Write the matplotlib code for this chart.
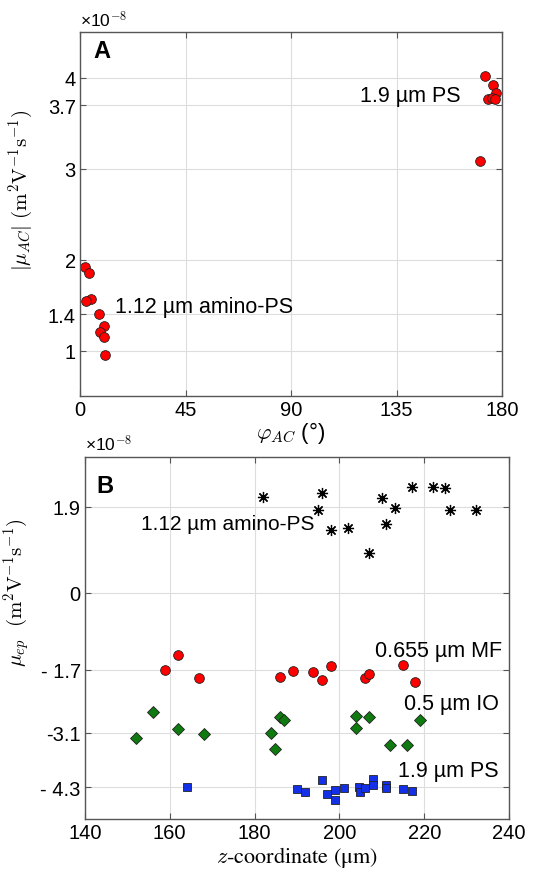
import matplotlib
matplotlib.use('Agg')
import matplotlib.pyplot as plt

plt.rcParams['font.family'] = ['Liberation Sans', 'DejaVu Sans']
plt.rcParams['mathtext.fontset'] = 'cm'

# panel A data (x 1e-8)
phi_ps = [172.8, 176.3, 177.3, 174.0, 175.5, 177.0, 170.4]
mu_ps = [4.02, 3.92, 3.83, 3.77, 3.78, 3.77, 3.08]
phi_amino = [2.0, 4.0, 4.5, 2.7, 8.0, 10.4, 8.7, 10.2, 10.8]
mu_amino = [1.92, 1.85, 1.57, 1.55, 1.40, 1.27, 1.20, 1.15, 0.95]

# panel B data (x 1e-8)
z_amino = [182.1, 195.0, 196.0, 198.0, 202.0, 207.0, 210.0, 211.0, 213.0, 217.1, 222.1, 224.9, 226.1, 232.1]
ep_amino = [2.10, 1.82, 2.19, 1.38, 1.43, 0.87, 2.08, 1.51, 1.86, 2.34, 2.34, 2.31, 1.82, 1.82]
z_mf = [158.9, 162.0, 167.0, 186.1, 189.1, 193.8, 196.0, 198.0, 206.0, 207.0, 215.1, 217.9]
ep_mf = [-1.70, -1.37, -1.88, -1.86, -1.74, -1.75, -1.93, -1.62, -1.89, -1.79, -1.59, -1.98]
z_io = [152.0, 156.0, 162.0, 168.1, 183.9, 184.9, 186.0, 187.0, 203.9, 203.9, 206.9, 212.0, 215.9, 219.0]
ep_io = [-3.21, -2.64, -3.01, -3.13, -3.11, -3.45, -2.74, -2.81, -2.73, -2.99, -2.75, -3.37, -3.37, -2.82]
z_ps = [164.1, 189.9, 191.8, 195.9, 197.0, 199.0, 199.0, 201.0, 204.7, 204.9, 206.0, 208.0, 208.0, 210.9, 210.9, 215.0, 217.0]
ep_ps = [-4.29, -4.34, -4.40, -4.15, -4.45, -4.37, -4.57, -4.32, -4.29, -4.41, -4.32, -4.12, -4.25, -4.25, -4.32, -4.34, -4.38]

a_yticks = [1, 1.4, 2, 3, 3.7, 4]
a_yticklabels = ['1', '1.4', '2', '3', '3.7', '4']
a_xticks = [0, 45, 90, 135, 180]
b_yticks = [-4.3, -3.1, -1.7, 0, 1.9]
b_yticklabels = ['- 4.3', '-3.1', '- 1.7', '0', '1.9']
b_xticks = [140, 160, 180, 200, 220, 240]

fig = plt.figure(figsize=(5.37, 8.70), dpi=100)
axA = fig.add_axes([0.149, 0.5437, 0.786, 0.418])
axB = fig.add_axes([0.158, 0.0575, 0.790, 0.4164])


def style(ax):
    ax.grid(True, color='#dddddd', linewidth=0.8)
    ax.set_axisbelow(True)
    ax.tick_params(direction='in', top=True, right=True, labelsize=14.5,
                   color='#555555', length=4, pad=3)
    for s in ax.spines.values():
        s.set_color('#555555')
        s.set_linewidth(1.0)


style(axA)
axA.plot(phi_ps, mu_ps, 'o', color='red', mec='#222222', mew=0.6, ms=7)
axA.plot(phi_amino, mu_amino, 'o', color='red', mec='#222222', mew=0.6, ms=7)
axA.set_xlim(0, 180)
axA.set_ylim(0.5, 4.5)
axA.set_xticks(a_xticks)
axA.set_yticks(a_yticks)
axA.set_yticklabels(a_yticklabels)
axA.text(119.5, 3.81, '1.9 µm PS', fontsize=15.5, va='center')
axA.text(15, 1.48, '1.12 µm amino-PS', fontsize=15.5, va='center')
axA.text(5.5, 4.30, 'A', fontsize=17, fontweight='bold', va='center')
axA.text(0, 1.008, r'×10$^{\mathsf{-8}}$', transform=axA.transAxes, fontsize=12.5, va='bottom')
axA.set_xlabel(r'$\varphi_{AC}$ (°)', fontsize=16, labelpad=0)
axA.set_ylabel(r'$|\mu_{AC}|\ (\mathrm{m^2V^{-1}s^{-1}})$', fontsize=15)
axA.yaxis.set_label_coords(-0.107, 0.569)

style(axB)
axB.plot(z_amino, ep_amino, ls='none', marker=(8, 2, 0), color='black', ms=8, mew=0.9)
axB.plot(z_mf, ep_mf, 'o', color='red', mec='#222222', mew=0.6, ms=7)
axB.plot(z_io, ep_io, 'D', color='#0f7a0f', mec='#222222', mew=0.6, ms=6)
axB.plot(z_ps, ep_ps, 's', color='#1430e6', mec='#222222', mew=0.6, ms=5.5)
axB.set_xlim(140, 240)
axB.set_ylim(-5, 3)
axB.set_xticks(b_xticks)
axB.set_yticks(b_yticks)
axB.set_yticklabels(b_yticklabels)
axB.text(153.3, 1.53, '1.12 µm amino-PS', fontsize=15, va='center')
axB.text(208.4, -1.28, '0.655 µm MF', fontsize=15.5, va='center')
axB.text(215.3, -2.46, '0.5 µm IO', fontsize=15.5, va='center')
axB.text(213.9, -3.92, '1.9 µm PS', fontsize=15.5, va='center')
axB.text(142.6, 2.36, 'B', fontsize=17, fontweight='bold', va='center')
axB.text(0, 1.008, r'×10$^{\mathsf{-8}}$', transform=axB.transAxes, fontsize=12.5, va='bottom')
axB.set_xlabel(r'$z$-coordinate (μm)', fontsize=16, family='STIXGeneral', labelpad=1)
axB.set_ylabel(r'$\mu_{ep}\ \ (\mathrm{m^2V^{-1}s^{-1}})$', fontsize=15)
axB.yaxis.set_label_coords(-0.123, 0.627)

fig.savefig('out.png', dpi=100)
